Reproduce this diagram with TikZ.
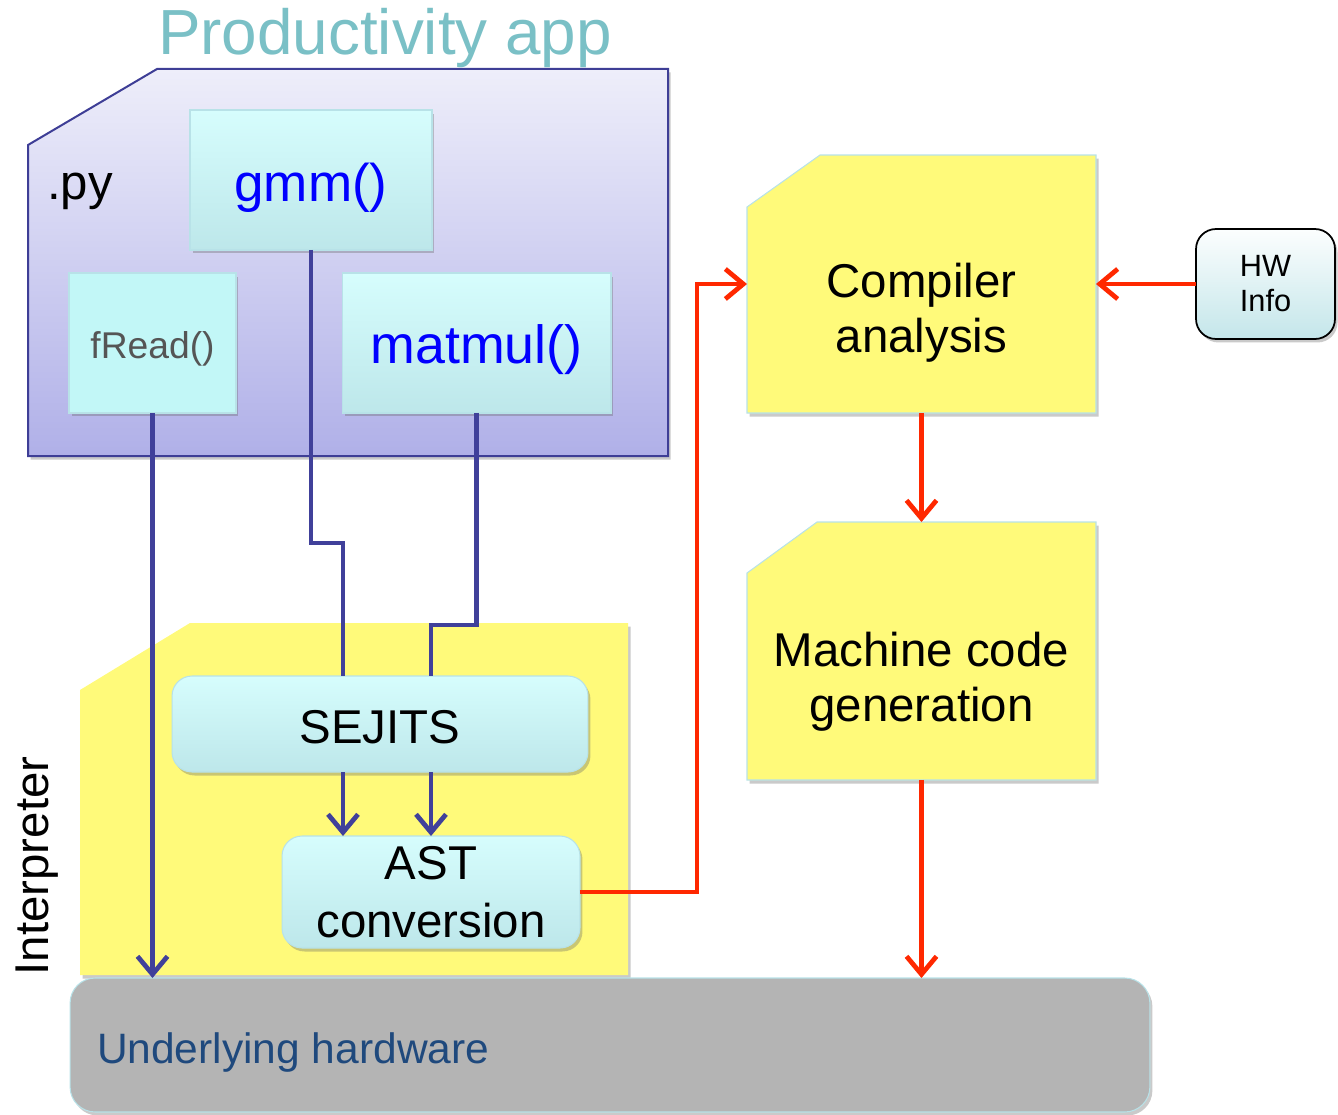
\documentclass[tikz,border=0pt]{standalone}
\usepackage{fontspec}
\setmainfont{Liberation Sans}
\usetikzlibrary{arrows.meta,shadows,calc}
\definecolor{titlecol}{RGB}{122,192,198}
\definecolor{purptop}{RGB}{238,238,250}
\definecolor{purpbot}{RGB}{176,176,232}
\definecolor{purpline}{RGB}{62,62,150}
\definecolor{conblue}{RGB}{64,64,154}
\definecolor{cyantop}{RGB}{214,253,253}
\definecolor{cyanbot}{RGB}{189,231,234}
\definecolor{cyanline}{RGB}{184,226,232}
\definecolor{fillfread}{RGB}{194,247,247}
\definecolor{yel}{RGB}{255,250,122}
\definecolor{redcon}{RGB}{255,40,0}
\definecolor{hwgray}{RGB}{180,180,180}
\definecolor{hwtext}{RGB}{31,73,125}
\definecolor{fnblue}{RGB}{0,0,255}
\definecolor{fngray}{RGB}{85,85,85}
\definecolor{hwtop}{RGB}{252,254,254}
\definecolor{hwbot}{RGB}{196,230,234}
\newcommand{\lowr}[2]{\raisebox{-#1}[\height][\depth]{#2}}
\begin{document}
\begin{tikzpicture}[x=0.02cm,y=-0.02cm,
  shd/.style={drop shadow={shadow xshift=0.05cm,shadow yshift=-0.07cm,opacity=0.35,fill=black!60}},
  cbox/.style={shd,rectangle,draw=cyanline,line width=0.6pt,top color=cyantop,bottom color=cyanbot,outer sep=0pt,inner sep=0pt,align=center},
  rbox/.style={cbox,rounded corners=0.4cm},
  bconn/.style={draw=conblue,line width=0.095cm},
  rconn/.style={draw=redcon,line width=0.095cm},
  arr/.style={-{Straight Barb[length=0.36cm,width=0.6cm]}},
  lbl/.style={inner sep=0pt,outer sep=0pt,align=center},
  big/.style={font=\fontsize{27}{31.5}\selectfont}
]
\useasboundingbox (0,0) rectangle (1338,1115);

% title
\node[lbl,text=titlecol,font=\fontsize{36.3}{40}\selectfont] (title) at (385,38) {Productivity app};

% purple app box
\fill[shd,top color=purptop,bottom color=purpbot,draw=purpline,line width=0.04cm]
  (28,145) -- (157,69) -- (668,69) -- (668,456) -- (28,456) -- cycle;
\node[lbl,font=\fontsize{28}{31}\selectfont] (py) at (80,191) {.py};

% function boxes
\node[cbox,minimum width=4.84cm,minimum height=2.8cm,text=fnblue,font=\fontsize{30.2}{33}\selectfont] (gmm) at (311,180) {\lowr{0.16cm}{gmm()}};
\node[cbox,top color=fillfread,bottom color=fillfread,minimum width=3.34cm,minimum height=2.8cm,text=fngray,font=\fontsize{21.2}{25}\selectfont] (fread) at (152.5,343) {\lowr{0.12cm}{fRead()}};
\node[cbox,minimum width=5.38cm,minimum height=2.8cm,text=fnblue,font=\fontsize{30.6}{33}\selectfont] (matmul) at (476.5,343) {\lowr{0.14cm}{matmul()}};

% interpreter area
\fill[shd,fill=yel] (80,690) -- (190,623) -- (628,623) -- (628,975) -- (80,975) -- cycle;
\node[lbl,big,rotate=90] (interp) at (37,866) {Interpreter};

% hardware
\node[shd,rectangle,rounded corners=0.5cm,fill=hwgray,draw=cyanline,line width=0.6pt,minimum width=21.6cm,minimum height=2.68cm,outer sep=0pt] (hw) at (610,1045) {};
\node[lbl,anchor=west,text=hwtext,font=\fontsize{24.2}{28}\selectfont] (hwlabel) at (97,1052) {Underlying hardware};

% SEJITS and AST
\node[rbox,minimum width=8.32cm,minimum height=1.92cm,big] (sejits) at (380,724) {\lowr{0.06cm}{SEJITS}};
\node[rbox,minimum width=5.96cm,minimum height=2.24cm,font=\fontsize{27}{33}\selectfont] (ast) at (431,892) {AST\\conversion};

% compiler boxes
\fill[shd,fill=yel,draw=cyanline,line width=0.6pt] (747,207) -- (820,155) -- (1096,155) -- (1096,413) -- (747,413) -- cycle;
\node[lbl,minimum width=6.98cm,minimum height=5.16cm] (comp) at (921.5,284) {};
\node[lbl,big] (comptext) at (921.5,313) {Compiler\\analysis};
\fill[shd,fill=yel,draw=cyanline,line width=0.6pt] (747,573) -- (817,522) -- (1096,522) -- (1096,780) -- (747,780) -- cycle;
\node[lbl,minimum width=6.98cm,minimum height=5.16cm] (mach) at (921.5,651) {};
\node[lbl,big] (machtext) at (921.5,682) {Machine code\\generation};

% HW info
\node[shd,rectangle,rounded corners=0.4cm,draw=black,line width=1pt,top color=hwtop,bottom color=hwbot,minimum width=2.78cm,minimum height=2.2cm,outer sep=0pt,align=center,font=\fontsize{17.5}{20}\selectfont] (hwinfo) at (1265.5,284) {HW\\Info};

% blue connectors
\draw[bconn,arr] (fread.south) -- (hw.north -| fread.south);
\draw[bconn] (gmm.south) |- (343,543) -- (sejits.north -| 343,0);
\draw[bconn] (matmul.south) |- (431,625) -- (sejits.north -| ast.north);
\draw[bconn,arr] (sejits.south -| 343,0) -- (ast.north -| 343,0);
\draw[bconn,arr] (sejits.south -| ast.north) -- (ast.north);

% red connectors
\draw[rconn,arr] (ast.east) -| (697,284) -- (comp.west);
\draw[rconn,arr] (hwinfo.west) -- (comp.east);
\draw[rconn,arr] (comp.south) -- (mach.north);
\draw[rconn,arr] (mach.south) -- (hw.north -| mach.south);
\end{tikzpicture}
\end{document}
